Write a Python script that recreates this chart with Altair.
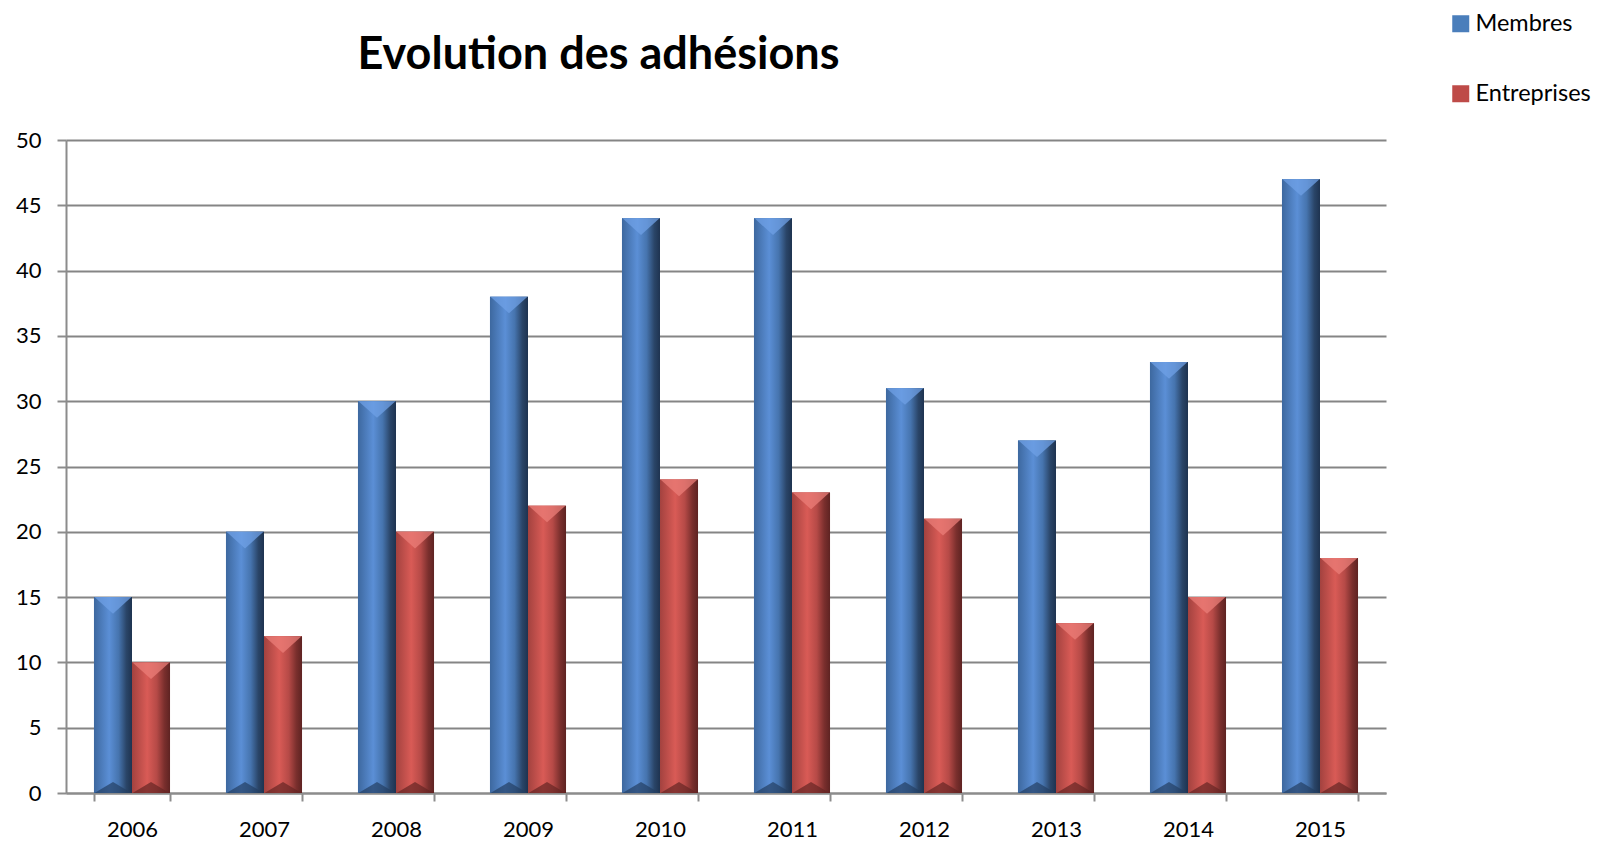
import altair as alt
import pandas as pd

years = ["2006", "2007", "2008", "2009", "2010", "2011", "2012", "2013", "2014", "2015"]
membres = [15, 20, 30, 38, 44, 44, 31, 27, 33, 47]
entreprises = [10, 12, 20, 22, 24, 23, 21, 13, 15, 18]
series = ["Membres", "Entreprises"]
y_ticks = [0, 5, 10, 15, 20, 25, 30, 35, 40, 45, 50]

rows = []
for y, m, e in zip(years, membres, entreprises):
    rows.append({"annee": y, "serie": "Membres", "valeur": m})
    rows.append({"annee": y, "serie": "Entreprises", "valeur": e})
df = pd.DataFrame(rows)

FONT = "Lato"
flat = {"Membres": "#4A7EBB", "Entreprises": "#BE4B48"}
grad = {
    "Membres": ["#3D689F", "#5B8FD6", "#4674AE", "#2A4568", "#1E3350"],
    "Entreprises": ["#A3423F", "#D95B56", "#B64A47", "#7A2F2D", "#5E2322"],
}
top_col = {"Membres": "#6FA0E6", "Entreprises": "#EB7E78"}
bot_col = {"Membres": "#243E62", "Entreprises": "#652524"}

x_enc = alt.X(
    "annee:N",
    sort=years,
    title=None,
    scale=alt.Scale(paddingInner=0.424, paddingOuter=0.212),
    axis=alt.Axis(
        labelAngle=0,
        tickBand="extent",
        tickSize=8,
        tickColor="#8C8C8C",
        tickWidth=2,
        domainColor="#8C8C8C",
        domainWidth=2,
        labelFontSize=22,
        labelFont=FONT,
        labelColor="#000000",
        labelPadding=18,
        grid=False,
    ),
)
y_enc = alt.Y(
    "valeur:Q",
    title=None,
    scale=alt.Scale(domain=[0, 50], nice=False),
    axis=alt.Axis(
        values=y_ticks,
        tickSize=9,
        tickColor="#8C8C8C",
        tickWidth=2,
        domainColor="#8C8C8C",
        domainWidth=2,
        gridColor="#858585",
        gridWidth=1.8,
        labelFontSize=22,
        labelFont=FONT,
        labelColor="#000000",
        labelPadding=16,
    ),
)
xo_enc = alt.XOffset(
    "serie:N",
    sort=series,
    scale=alt.Scale(domain=series, paddingInner=0, paddingOuter=0),
)

base = alt.Chart(df).mark_bar().encode(
    x=x_enc,
    y=y_enc,
    xOffset=xo_enc,
    color=alt.Color(
        "serie:N",
        sort=series,
        scale=alt.Scale(domain=series, range=[flat[s] for s in series]),
        legend=alt.Legend(
            title=None,
            orient="none",
            legendX=1383,
            legendY=-128,
            direction="vertical",
            symbolType="square",
            symbolSize=289,
            symbolStrokeWidth=0,
            labelFontSize=23.5,
            labelFont=FONT,
            labelColor="#000000",
            rowPadding=45,
            labelOffset=3,
            padding=0,
        ),
    ),
)

layers = [base]
for s in series:
    stops = grad[s]
    g = {
        "gradient": "linear",
        "x1": 0, "x2": 1, "y1": 0, "y2": 0,
        "stops": [
            {"offset": 0.0, "color": stops[0]},
            {"offset": 0.4, "color": stops[1]},
            {"offset": 0.65, "color": stops[2]},
            {"offset": 0.85, "color": stops[3]},
            {"offset": 1.0, "color": stops[4]},
        ],
    }
    bars = alt.Chart(df).transform_filter(alt.datum.serie == s).mark_bar(fill=g).encode(
        x=x_enc, y=y_enc, xOffset=xo_enc
    )
    tops = alt.Chart(df).transform_filter(alt.datum.serie == s).mark_point(
        shape="M -1 -1 L 1 -1 L 0 -0.1 Z",
        filled=True,
        size=1369,
        yOffset=18.5,
        fill=top_col[s],
        opacity=0.75,
        strokeWidth=0,
    ).encode(x=x_enc, y=y_enc, xOffset=xo_enc)
    bots = alt.Chart(df).transform_filter(alt.datum.serie == s).mark_point(
        shape="M -1 1 L 1 1 L 0 0.4 Z",
        filled=True,
        size=1369,
        yOffset=-18.5,
        fill=bot_col[s],
        opacity=0.7,
        strokeWidth=0,
    ).encode(x=x_enc, y=alt.datum(0, type="quantitative"), xOffset=xo_enc)
    layers += [bars, tops, bots]

chart = alt.layer(*layers).properties(
    width=1320,
    height=653,
    padding={"left": 58, "top": 132, "right": 206, "bottom": 49},
    autosize=alt.AutoSizeParams(type="none"),
    title=alt.TitleParams(
        "Evolution des adhésions",
        anchor="start",
        dx=342,
        dy=102,
        font=FONT,
        fontSize=45,
        fontWeight="bold",
        color="#000000",
        baseline="alphabetic",
        offset=0,
    ),
).configure_view(stroke=None).configure_axisY(grid=True)

chart.save("out.html", embed_options={"renderer": "svg", "actions": False})
